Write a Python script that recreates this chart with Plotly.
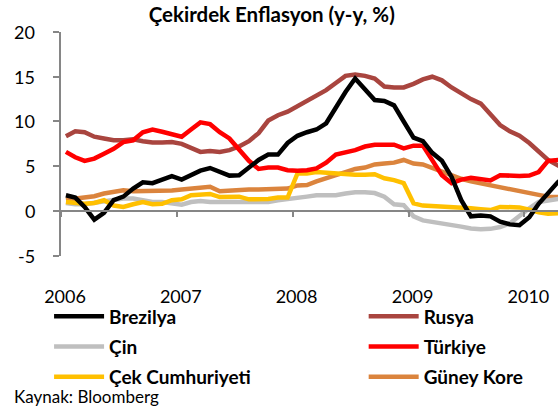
import pandas as pd
import plotly.graph_objects as go

title = "Çekirdek Enflasyon (y-y, %)"
source = "Kaynak: Bloomberg"

months = pd.date_range("2006-01-01", periods=53, freq="MS")

brezilya = [1.75, 1.5, 0.45, -0.96, -0.2, 1.2, 1.6, 2.5, 3.2, 3.1, 3.5, 3.9,
            3.5, 4.0, 4.5, 4.8, 4.4, 3.95, 4.0, 4.8, 5.7, 6.3, 6.3, 7.6,
            8.4, 8.8, 9.1, 9.8, 11.6, 13.3, 14.8, 13.6, 12.4, 12.3, 11.8, 10.0,
            8.2, 7.8, 6.5, 5.6, 3.8, 1.2, -0.6, -0.5, -0.6, -1.2, -1.5, -1.6,
            -0.7, 0.8, 1.9, 3.2, 4.0]
rusya = [8.35, 8.9, 8.8, 8.3, 8.1, 7.9, 7.9, 8.0, 7.8, 7.65, 7.65, 7.7,
         7.5, 7.0, 6.6, 6.7, 6.6, 6.8, 7.2, 7.8, 8.7, 10.1, 10.7, 11.1,
         11.7, 12.3, 12.8, 13.5, 14.3, 15.1, 15.25, 15.1, 14.8, 13.9, 13.8, 13.8,
         14.2, 14.7, 15.0, 14.6, 13.8, 13.1, 12.5, 12.0, 10.8, 9.6, 8.9, 8.4,
         7.6, 6.7, 5.7, 5.1, 4.6]
cin = [0.9, 0.75, 0.75, 0.9, 1.0, 1.25, 1.38, 1.4, 1.25, 1.0, 1.0, 0.85,
       0.7, 1.0, 1.1, 1.0, 1.0, 1.0, 0.9, 0.9, 1.0, 1.0, 1.2, 1.3,
       1.5, 1.6, 1.75, 1.8, 1.75, 1.95, 2.1, 2.1, 2.0, 1.6, 0.75, 0.65,
       -0.6, -1.05, -1.2, -1.35, -1.55, -1.75, -1.95, -2.05, -2.0, -1.8, -1.4, -0.5,
       0.3, 1.0, 1.2, 1.4, 1.5]
turkiye = [6.6, 6.0, 5.6, 5.85, 6.4, 6.95, 7.7, 7.9, 8.8, 9.1, 8.85, 8.6,
           8.3, 9.1, 9.9, 9.7, 8.8, 8.1, 6.9, 5.6, 4.7, 4.85, 4.85, 4.55,
           4.5, 4.55, 4.75, 5.4, 6.3, 6.5, 6.8, 7.2, 7.4, 7.4, 7.4, 7.0,
           7.3, 7.3, 5.6, 4.0, 3.1, 3.5, 3.7, 3.6, 3.4, 4.0, 3.9, 3.9,
           3.95, 4.35, 5.6, 5.7, 5.8]
cek = [1.0, 0.9, 0.8, 0.9, 1.2, 0.6, 0.45, 0.75, 1.0, 0.75, 0.8, 1.2,
       1.3, 1.75, 1.85, 1.9, 1.55, 1.6, 1.6, 1.3, 1.27, 1.35, 1.5, 1.5,
       4.2, 4.2, 4.35, 4.25, 4.15, 4.05, 4.05, 4.05, 4.1, 3.65, 3.45, 3.1,
       0.85, 0.6, 0.55, 0.52, 0.5, 0.4, 0.3, 0.2, 0.1, 0.45, 0.45, 0.4,
       0.15, -0.15, -0.3, -0.3, -0.2]
kore = [1.25, 1.38, 1.55, 1.65, 1.95, 2.1, 2.3, 2.2, 2.2, 2.2, 2.25, 2.3,
        2.4, 2.5, 2.55, 2.7, 2.2, 2.3, 2.4, 2.4, 2.4, 2.45, 2.45, 2.5,
        2.85, 2.9, 3.3, 3.6, 4.0, 4.35, 4.7, 4.85, 5.2, 5.3, 5.4, 5.7,
        5.3, 5.2, 4.8, 4.3, 3.95, 3.6, 3.3, 3.1, 2.8, 2.6, 2.45, 2.25,
        2.05, 1.8, 1.6, 1.55, 1.5]

year_ticks = ["2006-01-01", "2007-01-01", "2008-01-01", "2009-01-01", "2010-01-01"]
year_labels = ["2006", "2007", "2008", "2009", "2010"]
y_ticks = [20, 15, 10, 5, 0, -5]
y_labels = ["20", "15", "10", "5", "0", "-5"]

series = [
    ("Brezilya", brezilya, "#000000", "legend", 1),
    ("Çin", cin, "#BFBFBF", "legend", 2),
    ("Çek Cumhuriyeti", cek, "#FFC000", "legend", 3),
    ("Rusya", rusya, "#A9453F", "legend2", 1),
    ("Türkiye", turkiye, "#FF0000", "legend2", 2),
    ("Güney Kore", kore, "#DB843D", "legend2", 3),
]
draw_order = ["Rusya", "Güney Kore", "Çin", "Çek Cumhuriyeti", "Türkiye", "Brezilya"]

FONT = "Lato"
fig = go.Figure()
lookup = {s[0]: s for s in series}
for name in draw_order:
    n, vals, col, leg, rank = lookup[name]
    fig.add_trace(go.Scatter(
        x=months, y=vals, name="<b>" + n + "</b>", mode="lines",
        xperiod="M1", xperiodalignment="middle",
        line=dict(color=col, width=4.5),
        legend=leg, legendgroup=n, legendrank=rank,
    ))

# invisible trace to drive the zero-line x axis
fig.add_trace(go.Scatter(x=months, y=[None] * len(months), xaxis="x2",
                         showlegend=False, hoverinfo="skip"))

y_lo, y_hi = -5, 20
dom_lo = 0.1123                      # y-axis domain starts above the year labels
zero_frac = dom_lo + (1 - dom_lo) * (0 - y_lo) / (y_hi - y_lo)

legend_common = dict(yanchor="top", xanchor="left",
                     font=dict(size=19, family=FONT, color="black"),
                     itemwidth=50, tracegroupgap=2.5,
                     bgcolor="rgba(0,0,0,0)", traceorder="grouped")

# y tick labels set a little away from the axis, as in the original
ytick_annots = [dict(text=lab, x=-0.0483, xref="paper", y=val, yref="y",
                     xanchor="right", yanchor="middle", showarrow=False,
                     font=dict(size=18, family=FONT, color="black"))
                for val, lab in zip(y_ticks, y_labels)]

fig.update_layout(
    width=558, height=410,
    margin=dict(l=61, r=0, t=32, b=126, autoexpand=False),
    paper_bgcolor="white", plot_bgcolor="white",
    font=dict(family=FONT, color="black"),
    title=dict(text="<b>" + title + "</b>", x=0.487, xanchor="center",
               y=0.963, yanchor="middle", font=dict(size=20.5, family=FONT)),
    xaxis=dict(
        type="date", range=["2006-01-01", "2010-04-17"],
        anchor="free", position=0,
        tickvals=year_ticks, ticktext=year_labels,
        showline=False, showgrid=False, zeroline=False, ticks="",
        ticklabelshift=4,
        tickfont=dict(size=18, family=FONT),
    ),
    xaxis2=dict(
        type="date", overlaying="x", matches="x", anchor="free",
        position=zero_frac, side="bottom",
        showline=True, linecolor="#868686", linewidth=1.5,
        ticks="outside", ticklen=5, tickwidth=1.5, tickcolor="#868686",
        tickvals=year_ticks, showticklabels=False, showgrid=False,
    ),
    yaxis=dict(
        domain=[dom_lo, 1],
        range=[y_lo, y_hi], tickvals=y_ticks, showticklabels=False,
        showline=True, linecolor="#868686", linewidth=1.5,
        ticks="outside", ticklen=6, tickwidth=1.5, tickcolor="#868686",
        showgrid=False, zeroline=False,
    ),
    legend=dict(x=-0.024, y=-0.0536, **legend_common),
    legend2=dict(x=0.609, y=-0.0536, **legend_common),
    annotations=ytick_annots + [
        dict(text=source, xref="paper", yref="paper", x=-0.098,
             y=-0.4468, xanchor="left", yanchor="middle",
             showarrow=False, font=dict(size=17, family=FONT))],
)

fig.write_html("out.html", config={"displayModeBar": False},
               post_script="document.body.style.margin='0';")
